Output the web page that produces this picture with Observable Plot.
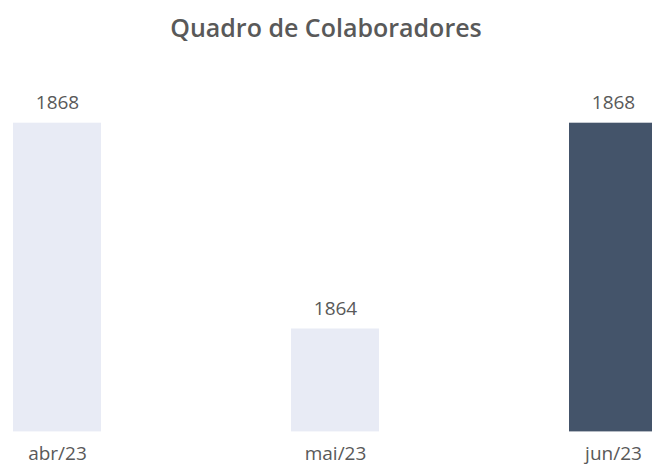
<!DOCTYPE html>
<html>
<head>
<meta charset="utf-8">
<script src="https://cdn.jsdelivr.net/npm/d3@7"></script>
<script src="https://cdn.jsdelivr.net/npm/@observablehq/plot@0.6"></script>
<style>
  html, body { margin: 0; padding: 0; background: #fff; overflow: hidden; }
  #title { height: 56px; line-height: 54px; text-align: center; font-family: "Open Sans", sans-serif; font-weight: 600; font-size: 25px; color: #595959; }
  #chart svg { overflow: visible; }
</style>
</head>
<body>
<div id="title">Quadro de Colaboradores</div>
<div id="chart"></div>
<script>
const months = ["abr/23", "mai/23", "jun/23"];
const values = [1868, 1864, 1868];
const highlight = [false, false, true];
const yMin = 1862;

const data = months.map((m, i) => ({month: m, value: values[i], hl: highlight[i]}));

const chart = Plot.plot({
  width: 652,
  height: 413,
  marginTop: 66.7,
  marginBottom: 37.6,
  marginLeft: 0,
  marginRight: 0,
  style: {fontFamily: "Open Sans, sans-serif", color: "#595959", background: "white"},
  x: {domain: months, range: [12, 657], paddingInner: 0.684, paddingOuter: 0, align: 0.5, label: null},
  y: {domain: [yMin, 1868], axis: null},
  marks: [
    Plot.barY(data, {x: "month", y1: yMin, y2: "value", fill: d => d.hl ? "#44546A" : "#E8EBF5"}),
    Plot.text(data, {x: "month", y: "value", text: d => String(d.value), dy: -20, fontSize: 19, fill: "#595959"}),
    Plot.axisX({tickSize: 0, tickPadding: 15, fontSize: 19, fill: "#595959", label: null})
  ]
});
document.getElementById("chart").appendChild(chart);
</script>
</body>
</html>
